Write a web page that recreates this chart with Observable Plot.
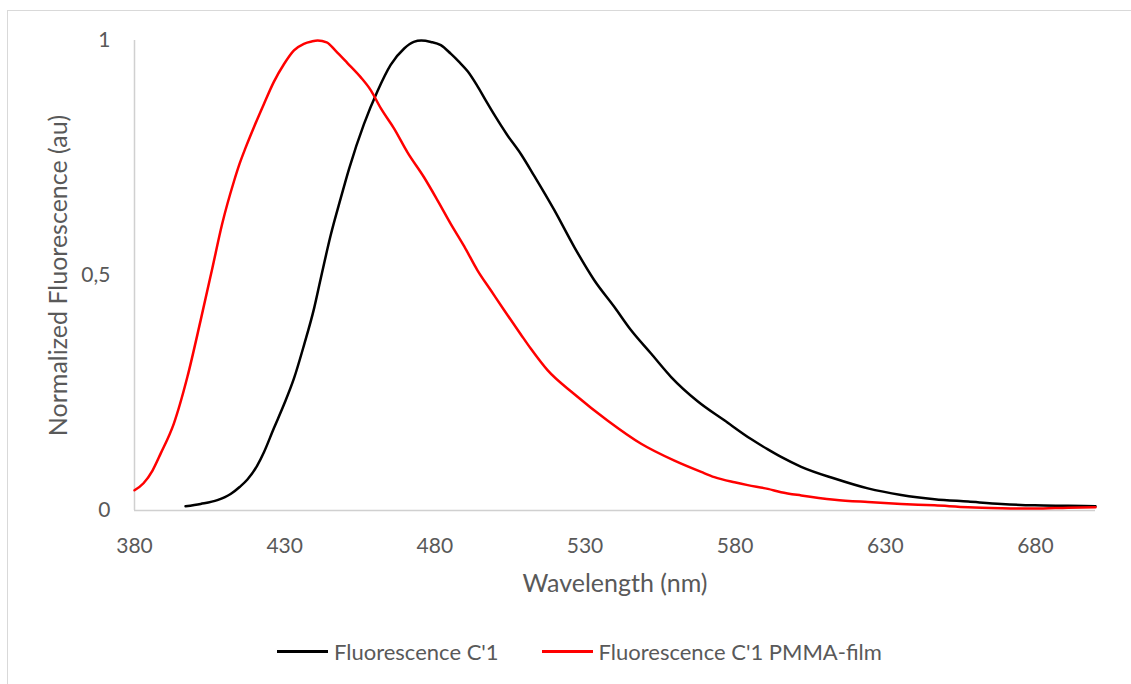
<!DOCTYPE html>
<html>
<head>
<meta charset="utf-8">
<script src="https://cdn.jsdelivr.net/npm/d3@7"></script>
<script src="https://cdn.jsdelivr.net/npm/@observablehq/plot@0.6"></script>
<style>
  html, body { margin: 0; padding: 0; background: #fff; }
  #wrap { position: relative; width: 1131px; height: 684px; overflow: hidden; }
  #frame { position: absolute; left: 7px; top: 10px; width: 2000px; height: 2000px;
           border-top: 1.5px solid #d9d9d9; border-left: 1.5px solid #d9d9d9; pointer-events: none; }
  #chart { position: absolute; left: 0; top: 0; }
  #legend { position: absolute; top: 638px; left: 277px; display: flex; align-items: center;
            font-family: Lato, sans-serif; font-size: 22px; color: #595959; white-space: nowrap; }
  .item { display: flex; align-items: center; }
  .swatch { display: inline-block; width: 51px; height: 2.5px; margin-right: 6px; }
</style>
</head>
<body>
<div id="wrap">
  <div id="frame"></div>
  <div id="chart"></div>
  <div id="legend"></div>
</div>
<script>
// ---- Data ----
const seriesNames = ["Fluorescence C'1", "Fluorescence C'1 PMMA-film"];
const seriesColors = ["#000000", "#ff0000"];

const blackWavelength = [397, 402, 407.6, 412, 415, 417.6, 420.9, 423.1, 426.4, 429.8, 433.1, 436.4, 439.8, 442, 445.3, 448.7, 451.5, 456.4, 460.9, 465.3, 469.8, 473, 475.5, 478.7, 482, 485.3, 488, 491, 494, 497, 500, 504, 508.7, 513.1, 519.8, 526.4, 533.1, 539.8, 545.3, 552, 558.7, 567.6, 576.4, 585.3, 590.9, 595.3, 602, 613.1, 624.2, 635.3, 646.4, 657.6, 668.7, 679.8, 690.9, 700];
const blackValue = [0.009, 0.014, 0.022, 0.035, 0.050, 0.066, 0.096, 0.124, 0.175, 0.226, 0.281, 0.351, 0.430, 0.493, 0.585, 0.665, 0.728, 0.822, 0.892, 0.948, 0.983, 0.997, 1.0, 0.997, 0.990, 0.972, 0.955, 0.934, 0.905, 0.872, 0.840, 0.800, 0.758, 0.712, 0.639, 0.561, 0.490, 0.433, 0.384, 0.334, 0.284, 0.232, 0.192, 0.152, 0.130, 0.114, 0.093, 0.068, 0.047, 0.033, 0.024, 0.019, 0.014, 0.011, 0.010, 0.009];

const redWavelength = [380, 383, 386, 388.7, 393.1, 397.6, 402, 405.9, 409.2, 413.1, 415, 417, 419.8, 423.1, 426.4, 429.8, 433.1, 436.4, 439, 441, 444, 447, 450.9, 455.3, 458.7, 462, 466.4, 470.9, 476.4, 480.9, 485.3, 489.8, 494.2, 498.7, 503.1, 508.7, 512, 517.6, 526.4, 537.6, 548.7, 559.8, 568.7, 573.1, 579.8, 584.2, 590.9, 595.3, 602, 613.1, 624.2, 635.3, 646.4, 657.6, 668.7, 679.7, 690.9, 700];
const redValue = [0.043, 0.058, 0.085, 0.121, 0.185, 0.284, 0.404, 0.515, 0.610, 0.700, 0.738, 0.772, 0.816, 0.865, 0.912, 0.950, 0.979, 0.993, 0.998, 1.0, 0.996, 0.978, 0.952, 0.922, 0.894, 0.856, 0.813, 0.762, 0.709, 0.660, 0.610, 0.562, 0.511, 0.468, 0.426, 0.374, 0.344, 0.298, 0.248, 0.191, 0.142, 0.106, 0.082, 0.071, 0.060, 0.054, 0.046, 0.039, 0.032, 0.023, 0.018, 0.014, 0.011, 0.007, 0.005, 0.004, 0.006, 0.007];

const xTicks = [380, 430, 480, 530, 580, 630, 680];
const yTicks = [0, 0.5, 1];
const xTitle = "Wavelength (nm)";
const yTitle = "Normalized Fluorescence (au)";

// ---- Build tables ----
const blackData = blackWavelength.map((w, i) => ({w, v: blackValue[i]}));
const redData = redWavelength.map((w, i) => ({w, v: redValue[i]}));

const textColor = "#595959";
const axisColor = "#d0d0d0";

const chart = Plot.plot({
  width: 1131,
  height: 620,
  marginLeft: 134,
  marginRight: 36,
  marginTop: 40,
  marginBottom: 110,
  style: {fontFamily: "Lato, sans-serif", color: textColor, background: "transparent"},
  x: {domain: [380, 700]},
  y: {domain: [0, 1]},
  marks: [
    Plot.ruleY([0], {stroke: axisColor, strokeWidth: 1.5}),
    Plot.ruleX([380], {stroke: axisColor, strokeWidth: 1.5}),
    Plot.line(blackData, {x: "w", y: "v", stroke: seriesColors[0], strokeWidth: 2.5, curve: "monotone-x"}),
    Plot.line(redData, {x: "w", y: "v", stroke: seriesColors[1], strokeWidth: 2.5, curve: "monotone-x"}),
    Plot.axisX({ticks: xTicks, tickSize: 0, tickPadding: 28, fontSize: 21, label: null, fill: textColor}),
    Plot.axisY({ticks: yTicks, tickSize: 0, tickPadding: 24, fontSize: 21, label: null, fill: textColor,
                tickFormat: d => String(d).replace(".", ",")}),
    Plot.text([xTitle], {frameAnchor: "bottom", lineAnchor: "middle", dy: 73, fontSize: 25, fill: textColor}),
    Plot.text([yTitle], {frameAnchor: "left", textAnchor: "middle", lineAnchor: "middle", rotate: -90, dx: -76, fontSize: 25, fill: textColor})
  ]
});
document.getElementById("chart").appendChild(chart);

// ---- Legend ----
const legend = document.getElementById("legend");
seriesNames.forEach((name, i) => {
  const item = document.createElement("div");
  item.className = "item";
  item.style.marginRight = i === 0 ? "43px" : "0";
  const sw = document.createElement("span");
  sw.className = "swatch";
  sw.style.background = seriesColors[i];
  const label = document.createElement("span");
  label.textContent = name;
  item.appendChild(sw);
  item.appendChild(label);
  legend.appendChild(item);
});
</script>
</body>
</html>
